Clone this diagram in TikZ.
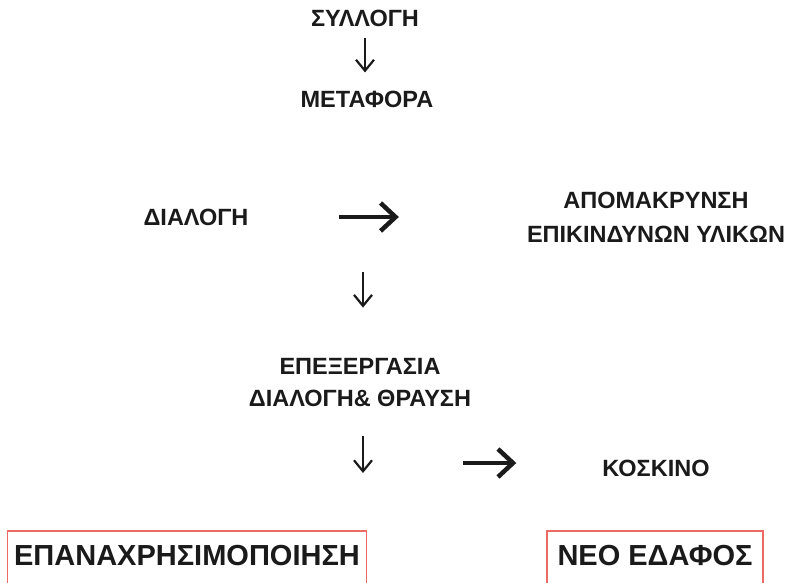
\documentclass[tikz,border=0pt]{standalone}
\usepackage{fontspec}
\setmainfont{Liberation Sans}
\usepackage{xcolor}
\usetikzlibrary{arrows.meta, positioning}
\definecolor{boxred}{HTML}{EE6A64}
\definecolor{ink}{HTML}{1A1A1A}

\begin{document}
\begin{tikzpicture}[
    x=1pt, y=-1pt,
    lbl/.style={font=\bfseries\fontsize{23.5}{33}\selectfont, text=ink, inner sep=0pt, align=center},
    bigbox/.style={font=\bfseries\fontsize{29}{36}\selectfont, text=ink, draw=boxred, line width=1.6pt, inner xsep=6pt, inner ysep=14pt, text depth=40pt, anchor=base},
    downarrow/.style={draw=ink, line width=2.2pt, -{Straight Barb[length=11pt, width=18pt]}},
    rightarrow/.style={draw=ink, line width=4.5pt, -{Straight Barb[length=15pt, width=28pt]}}
]
    \clip (0,0) rectangle (795,582);
    \useasboundingbox (0,0) rectangle (795,582);

    % Steps
    \node [lbl] (syllogi) at (365,18) {ΣΥΛΛΟΓΗ};
    \node [lbl] (metafora) at (367,99) {ΜΕΤΑΦΟΡΑ};
    \node [lbl] (dialogi) at (196,217) {ΔΙΑΛΟΓΗ};
    \node [lbl, font=\bfseries\fontsize{23.5}{34}\selectfont] (apomakrynsi) at (656,217) {ΑΠΟΜΑΚΡΥΝΣΗ\\ΕΠΙΚΙΝΔΥΝΩΝ ΥΛΙΚΩΝ};
    \node [lbl, font=\bfseries\fontsize{23.5}{32}\selectfont] (epexergasia) at (360,383) {ΕΠΕΞΕΡΓΑΣΙΑ\\ΔΙΑΛΟΓΗ\& ΘΡΑΥΣΗ};
    \node [lbl] (koskino) at (656,468) {ΚΟΣΚΙΝΟ};

    % Results (boxes run off the bottom)
    \node [bigbox, minimum width=359pt] (epanachrisi) at (187,565) {ΕΠΑΝΑΧΡΗΣΙΜΟΠΟΙΗΣΗ};
    \node [bigbox, minimum width=216pt] (edafos) at (655,565) {ΝΕΟ ΕΔΑΦΟΣ};

    \coordinate (sortout) at (363,272);
    \coordinate (crushout) at (363,473);
    \coordinate (sievein) at (463,463);

    % Arrows
    \draw [downarrow, shorten <=11pt, shorten >=18pt] (syllogi.south) -- (syllogi.south |- metafora.north);
    \draw [rightarrow, shorten <=90pt, shorten >=128pt] (dialogi.east) -- (dialogi.east -| apomakrynsi.west);
    \draw [downarrow, shorten >=51pt] (sortout) -- (sortout |- epexergasia.north);
    \draw [downarrow, shorten <=29pt] (crushout |- epexergasia.south) -- (crushout);
    \draw [rightarrow, shorten >=86pt] (sievein) -- (sievein -| koskino.west);

\end{tikzpicture}
\end{document}
